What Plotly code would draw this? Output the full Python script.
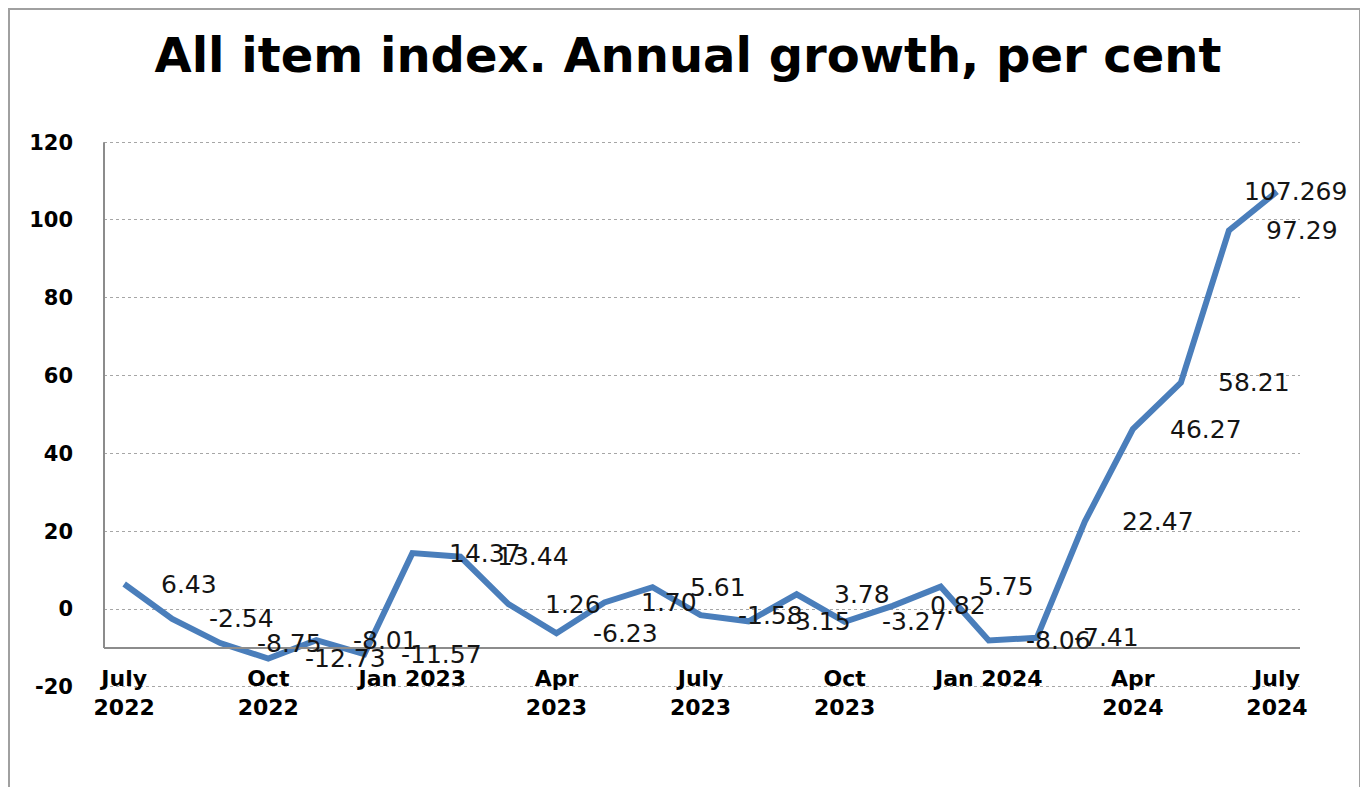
import plotly.graph_objects as go

months = ["Jul 2022", "Aug 2022", "Sep 2022", "Oct 2022", "Nov 2022", "Dec 2022",
          "Jan 2023", "Feb 2023", "Mar 2023", "Apr 2023", "May 2023", "Jun 2023",
          "Jul 2023", "Aug 2023", "Sep 2023", "Oct 2023", "Nov 2023", "Dec 2023",
          "Jan 2024", "Feb 2024", "Mar 2024", "Apr 2024", "May 2024", "Jun 2024",
          "Jul 2024"]
value_labels = ["6.43", "-2.54", "-8.75", "-12.73", "-8.01", "-11.57",
                "14.37", "13.44", "1.26", "-6.23", "1.70", "5.61",
                "-1.58", "-3.15", "3.78", "-3.27", "0.82", "5.75",
                "-8.06", "-7.41", "22.47", "46.27", "58.21", "97.29",
                "107.269"]
values = [float(s) for s in value_labels]

tick_positions = [0, 3, 6, 9, 12, 15, 18, 21, 24]
tick_labels = ["July<br>2022", "Oct<br>2022", "Jan 2023", "Apr<br>2023", "July<br>2023",
               "Oct<br>2023", "Jan 2024", "Apr<br>2024", "July<br>2024"]
y_ticks = [-20, 0, 20, 40, 60, 80, 100, 120]
y_tick_text = ["-20", "0", "20", "40", "60", "80", "100", "120"]

x_idx = list(range(len(months)))
x_range = [-0.42, 24.48]
y_range = [-20.3, 120.3]
axis_pos = (-10 - y_range[0]) / (y_range[1] - y_range[0])  # x axis crosses at -10

# page body has an 8px margin, so the figure is drawn 8px in from the window edge
W, H = 1360, 779
ML, MR, MT, MB = 96, 68, 133, 99
PW, PH = W - ML - MR, H - MT - MB

fig = go.Figure()
fig.add_trace(go.Scatter(
    x=x_idx, y=values, mode="lines",
    line=dict(color="#4a7ebb", width=6),
    text=months, hoverinfo="text+y", showlegend=False,
))

annotations = []
n = len(values)
for i, (v, s) in enumerate(zip(values, value_labels)):
    last = i == n - 1
    annotations.append(dict(
        x=i, y=v, xref="x", yref="y", text=s, showarrow=False,
        xanchor="right" if last else "left", yanchor="middle",
        xshift=72 if last else 35,
        font=dict(family="DejaVu Sans", size=25, color="#141414"),
    ))

fig.update_layout(
    width=W, height=H,
    margin=dict(l=ML, r=MR, t=MT, b=MB),
    paper_bgcolor="white", plot_bgcolor="white",
    title=dict(text="<b>All item index. Annual growth, per cent</b>",
               x=0.5, xref="container", xanchor="center",
               y=1 - 47 / H, yref="container", yanchor="middle",
               font=dict(family="DejaVu Sans", size=48, color="black")),
    annotations=annotations,
    xaxis=dict(
        range=x_range, tickmode="array", tickvals=tick_positions, ticktext=tick_labels,
        showgrid=False, zeroline=False, showline=True, linecolor="#8c8c8c", linewidth=2,
        anchor="free", position=axis_pos, ticks="", ticklabelstandoff=11,
        tickfont=dict(family="DejaVu Sans", size=22, color="black", weight="bold"),
    ),
    xaxis2=dict(
        range=x_range, overlaying="x", anchor="free", position=axis_pos,
        tickmode="array", tickvals=[8.5, 11.5, 14.5, 17.5, 20.5, 23.5],
        ticks="outside", ticklen=8, tickwidth=2, tickcolor="#8c8c8c",
        showticklabels=False, showgrid=False, zeroline=False, showline=False,
    ),
    yaxis=dict(
        range=y_range, tickmode="array", tickvals=y_ticks, ticktext=y_tick_text,
        showgrid=True, gridcolor="#a6a6a6", gridwidth=1, griddash="dot",
        zeroline=False, showline=False, ticks="", ticklabelstandoff=30,
        tickfont=dict(family="DejaVu Sans", size=21, color="black", weight="bold"),
    ),
    yaxis2=dict(
        range=y_range, overlaying="y", side="left", anchor="x",
        tickmode="array", tickvals=[0, 20, 40, 60, 80, 100, 120],
        ticks="outside", ticklen=12, tickwidth=2, tickcolor="#8c8c8c",
        showticklabels=False, showgrid=False, zeroline=False, showline=False,
    ),
    shapes=[
        dict(type="line", xref="paper", yref="y", x0=0, x1=0, y0=-10, y1=120,
             line=dict(color="#8c8c8c", width=2)),
        dict(type="rect", xref="paper", yref="paper",
             x0=-(ML - 1) / PW, x1=(W - 8 - ML) / PW,
             y0=-(MB + 20) / PH, y1=1 + (MT - 1) / PH,
             line=dict(color="#a0a0a0", width=2)),
    ],
)

fig.write_html("out.html")
